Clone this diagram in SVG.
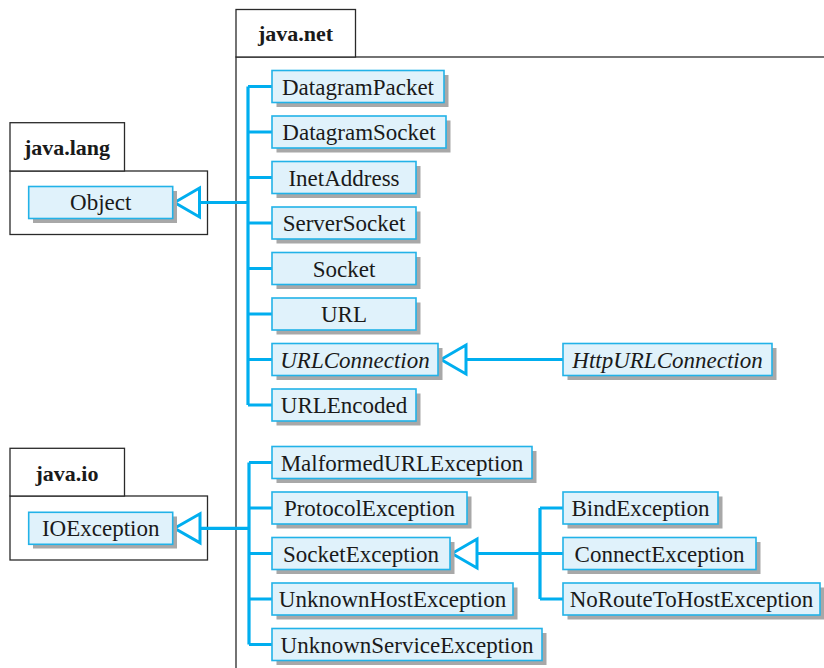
<svg xmlns="http://www.w3.org/2000/svg" width="824" height="668" viewBox="0 0 824 668">
<defs>
<style>
.pkg{fill:#ffffff;stroke:#2a2a2a;stroke-width:1.3}
.pkgt{font-family:"Liberation Serif","Times New Roman",serif;font-size:22px;font-weight:bold;fill:#1a1a1a;text-anchor:middle}
.sh{fill:#a8a8a8}
.bx{fill:#e0f2fb;stroke:#22b2e8;stroke-width:1.6}
.t{font-family:"Liberation Serif","Times New Roman",serif;font-size:23px;fill:#1a1a1a;text-anchor:middle}
.it{font-style:italic}
.ln{fill:none;stroke:#00aeef;stroke-width:3.2}
.tri{fill:#ffffff;stroke:#00aeef;stroke-width:3;stroke-linejoin:miter}
</style>
</defs>
<rect width="824" height="668" fill="#ffffff"/>

<g id="pkg-java-net">
<rect class="pkg" x="236" y="57" width="620" height="640"/>
<rect class="pkg" x="236" y="9.5" width="119.5" height="47.5"/>
<text class="pkgt" x="295.5" y="41">java.net</text>
</g>
<g id="pkg-java-lang">
<rect class="pkg" x="10" y="171" width="197.5" height="63.5"/>
<rect class="pkg" x="10" y="122.7" width="114.5" height="48.3"/>
<text class="pkgt" x="67" y="155">java.lang</text>
</g>
<g id="pkg-java-io">
<rect class="pkg" x="10" y="496" width="197.5" height="64"/>
<rect class="pkg" x="10" y="448.3" width="114.5" height="47.7"/>
<text class="pkgt" x="67" y="480.5">java.io</text>
</g>

<g id="connectors">
<path class="ln" d="M248 86.5V405 M248 86.5H272 M248 132H272 M248 177.5H272 M248 223H272 M248 268.5H272 M248 314H272 M248 359.5H272 M248 405H272 M199.5 202.5H248"/>
<path class="ln" d="M466 359.5H563"/>
<path class="ln" d="M249 462.5V644.5 M249 462.5H272 M249 508H272 M249 553.5H272 M249 599H272 M249 644.5H272 M200 528.3H249"/>
<path class="ln" d="M540 508V599 M540 508H563 M540 553.5H563 M540 599H563 M477 553.5H540"/>
<polygon class="tri" points="174.5,202.5 199.5,188 199.5,217"/>
<polygon class="tri" points="174.5,528.3 200,513.8 200,542.8"/>
<polygon class="tri" points="441,359.5 466,345 466,374"/>
<polygon class="tri" points="452,553.5 477,539 477,568"/>
</g>

<g id="Object"><rect class="sh" x="33" y="191" width="144" height="32"/><rect class="bx" x="28.7" y="186.5" width="144" height="32"/><text class="t" x="100.7" y="210">Object</text></g>
<g id="IOException"><rect class="sh" x="33" y="516.5" width="144" height="32"/><rect class="bx" x="28.7" y="512.3" width="144" height="32"/><text class="t" x="100.7" y="536">IOException</text></g>

<g id="DatagramPacket"><rect class="sh" x="276.5" y="75" width="172" height="32"/><rect class="bx" x="272" y="70.5" width="172" height="32"/><text class="t" x="358" y="94.5">DatagramPacket</text></g>
<g id="DatagramSocket"><rect class="sh" x="276.5" y="120.5" width="174" height="32"/><rect class="bx" x="272" y="116" width="174" height="32"/><text class="t" x="359" y="140">DatagramSocket</text></g>
<g id="InetAddress"><rect class="sh" x="276.5" y="166" width="144" height="32"/><rect class="bx" x="272" y="161.5" width="144" height="32"/><text class="t" x="344" y="185.5">InetAddress</text></g>
<g id="ServerSocket"><rect class="sh" x="276.5" y="211.5" width="144" height="32"/><rect class="bx" x="272" y="207" width="144" height="32"/><text class="t" x="344" y="231">ServerSocket</text></g>
<g id="Socket"><rect class="sh" x="276.5" y="257" width="144" height="32"/><rect class="bx" x="272" y="252.5" width="144" height="32"/><text class="t" x="344" y="276.5">Socket</text></g>
<g id="URL"><rect class="sh" x="276.5" y="302.5" width="144" height="32"/><rect class="bx" x="272" y="298" width="144" height="32"/><text class="t" x="344" y="322">URL</text></g>
<g id="URLConnection"><rect class="sh" x="276.5" y="348" width="166" height="32"/><rect class="bx" x="272" y="343.5" width="166" height="32"/><text class="t it" x="355" y="367.5">URLConnection</text></g>
<g id="URLEncoded"><rect class="sh" x="276.5" y="393.5" width="144" height="32"/><rect class="bx" x="272" y="389" width="144" height="32"/><text class="t" x="344" y="413">URLEncoded</text></g>
<g id="HttpURLConnection"><rect class="sh" x="567.5" y="348" width="209" height="32"/><rect class="bx" x="563" y="343.5" width="209" height="32"/><text class="t it" x="667.5" y="367.5">HttpURLConnection</text></g>

<g id="MalformedURLException"><rect class="sh" x="276.5" y="451" width="260" height="32"/><rect class="bx" x="272" y="446.5" width="260" height="32"/><text class="t" x="402" y="470.5">MalformedURLException</text></g>
<g id="ProtocolException"><rect class="sh" x="276.5" y="496.5" width="195" height="32"/><rect class="bx" x="272" y="492" width="195" height="32"/><text class="t" x="369.5" y="516">ProtocolException</text></g>
<g id="SocketException"><rect class="sh" x="276.5" y="542" width="178" height="32"/><rect class="bx" x="272" y="537.5" width="178" height="32"/><text class="t" x="361" y="561.5">SocketException</text></g>
<g id="UnknownHostException"><rect class="sh" x="276.5" y="587.5" width="241" height="32"/><rect class="bx" x="272" y="583" width="241" height="32"/><text class="t" x="392.5" y="607">UnknownHostException</text></g>
<g id="UnknownServiceException"><rect class="sh" x="276.5" y="633" width="270" height="32"/><rect class="bx" x="272" y="628.5" width="270" height="32"/><text class="t" x="407" y="652.5">UnknownServiceException</text></g>

<g id="BindException"><rect class="sh" x="567.5" y="496.5" width="155" height="32"/><rect class="bx" x="563" y="492" width="155" height="32"/><text class="t" x="640.5" y="516">BindException</text></g>
<g id="ConnectException"><rect class="sh" x="567.5" y="542" width="193" height="32"/><rect class="bx" x="563" y="537.5" width="193" height="32"/><text class="t" x="659.5" y="561.5">ConnectException</text></g>
<g id="NoRouteToHostException"><rect class="sh" x="567.5" y="587.5" width="257" height="32"/><rect class="bx" x="563" y="583" width="257" height="32"/><text class="t" x="691.5" y="607">NoRouteToHostException</text></g>
</svg>
